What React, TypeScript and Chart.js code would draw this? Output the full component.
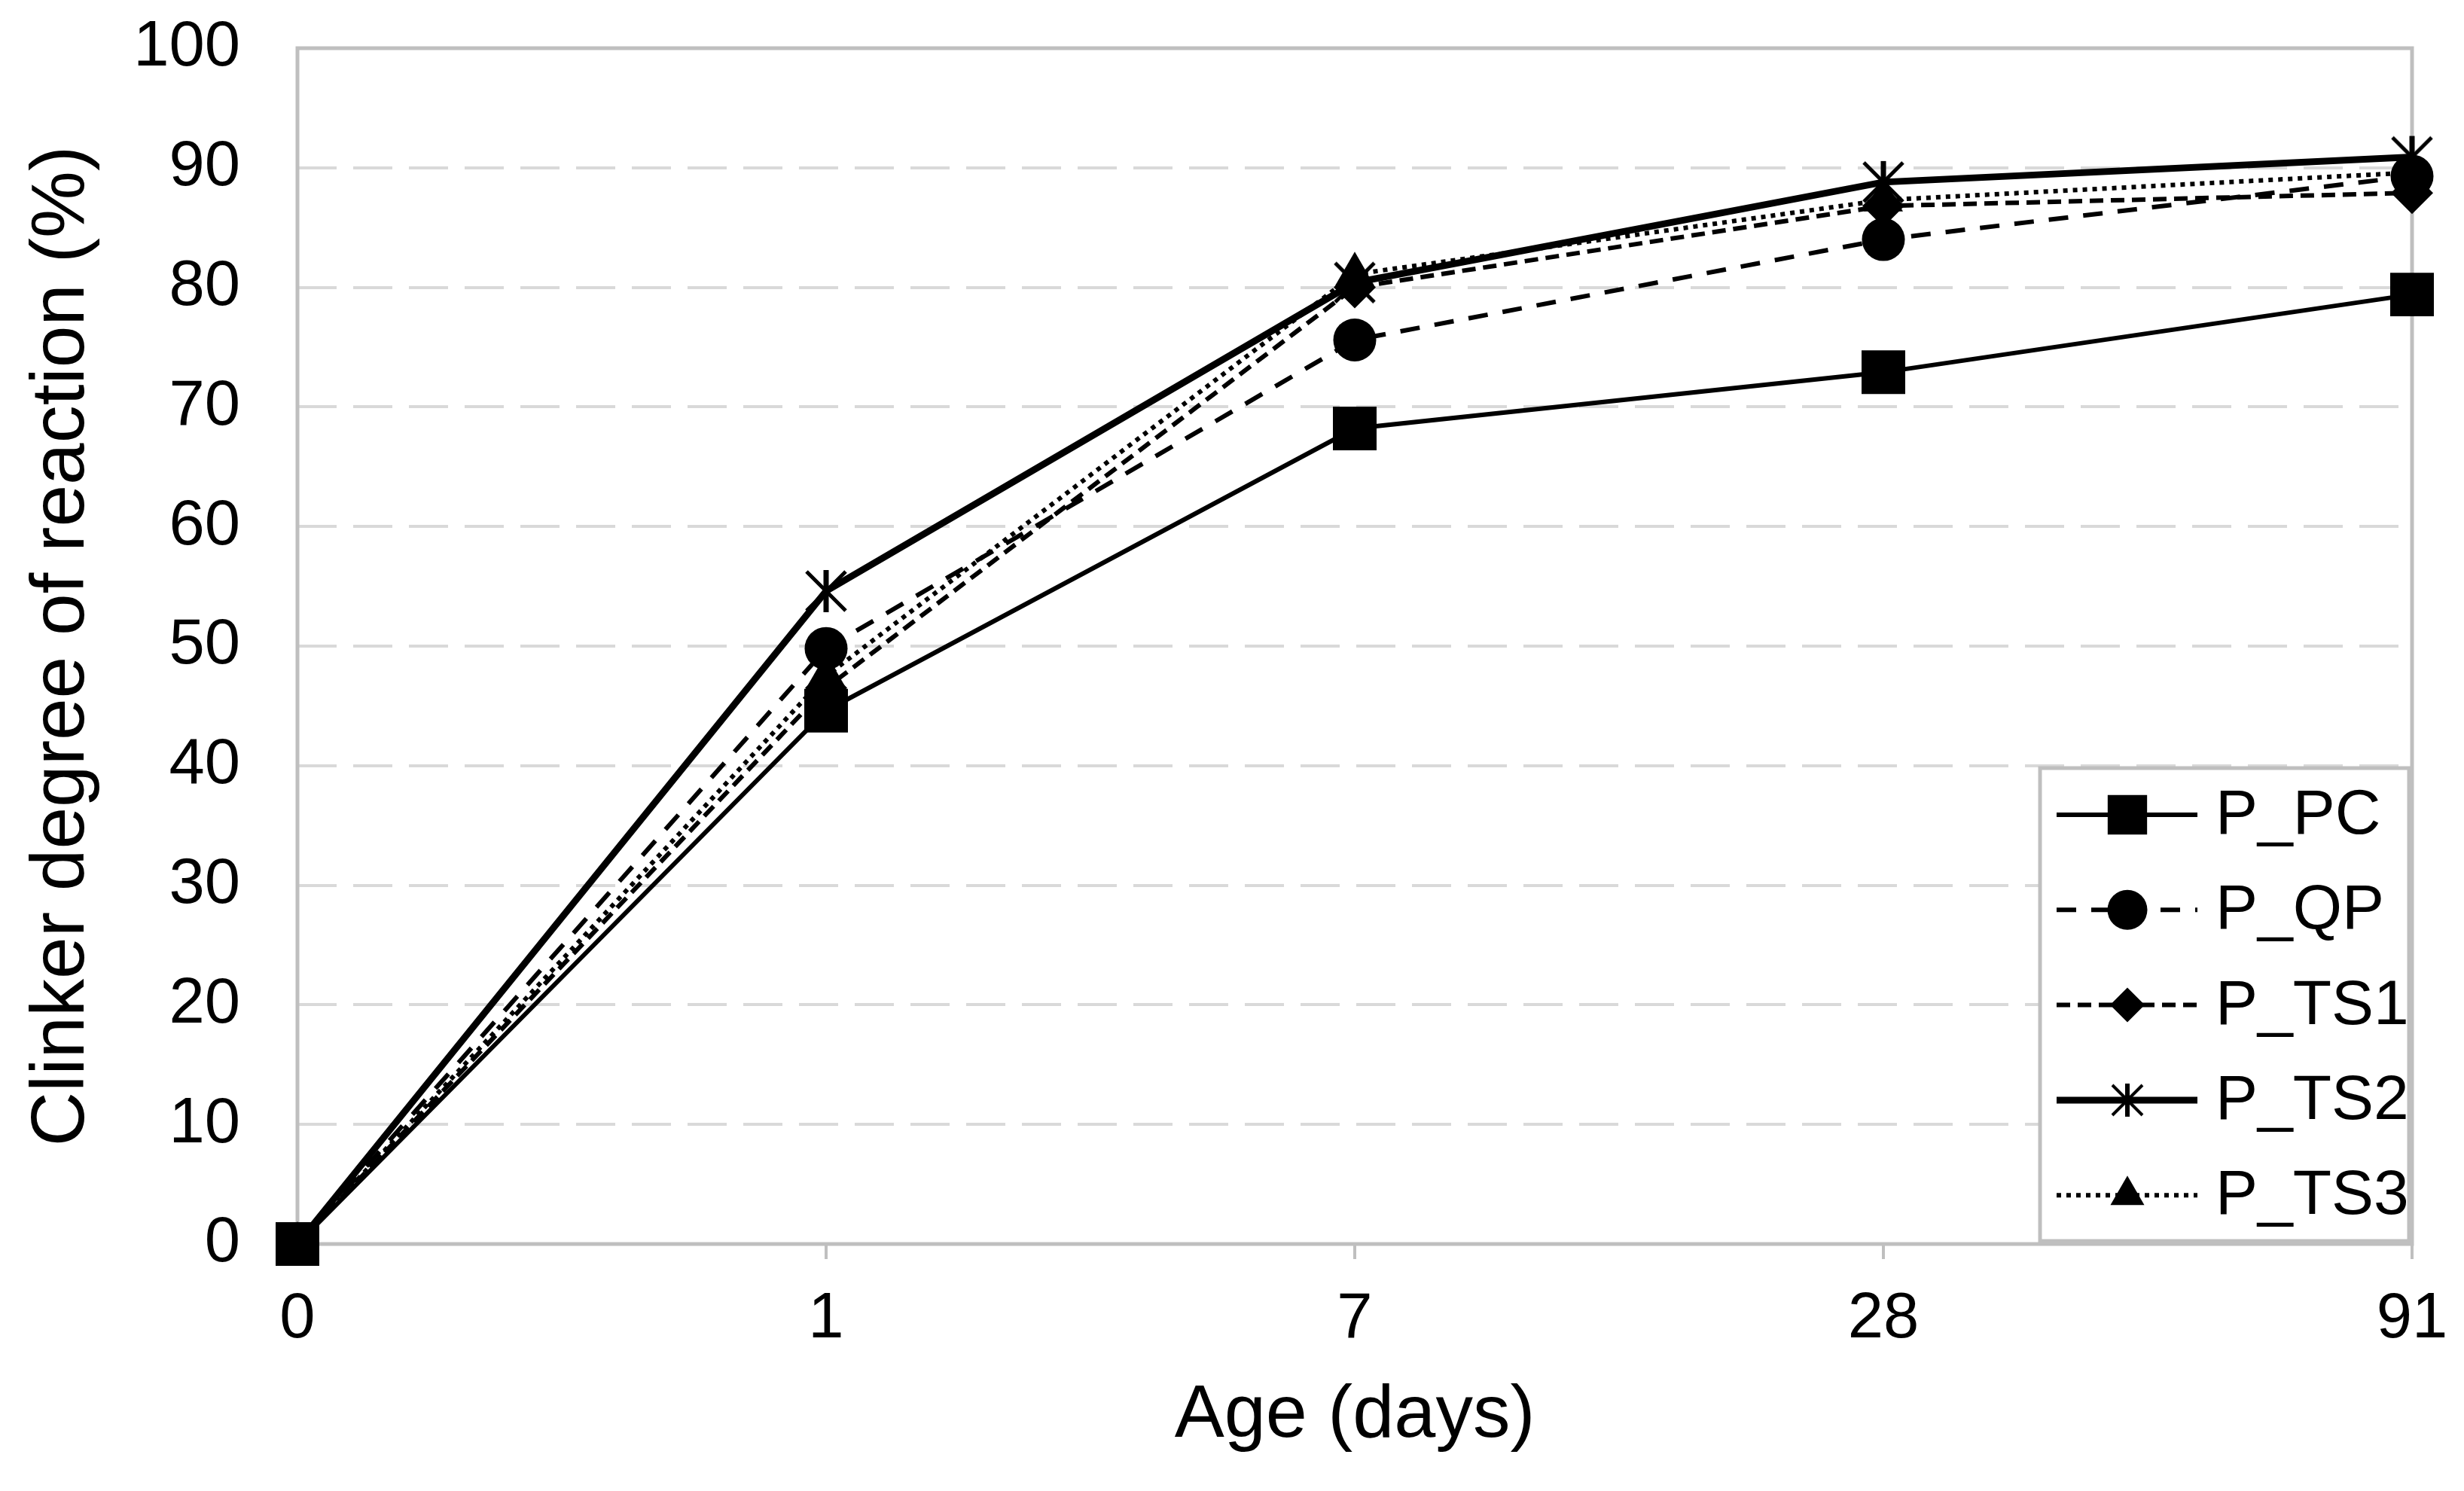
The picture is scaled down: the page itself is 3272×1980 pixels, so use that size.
import { useEffect, useRef } from "react";
import { Chart, registerables } from "chart.js";
import { drawPoint } from "chart.js/helpers";

Chart.register(...registerables);

// Age categories (days)
const ages = ["0", "1", "7", "28", "91"];

// Clinker degree of reaction (%)
const pPC = [0, 44.6, 68.2, 72.9, 79.4];
const pQP = [0, 49.8, 75.6, 84.0, 89.3];
const pTS1 = [0, 46.5, 80.0, 86.8, 87.9];
const pTS2 = [0, 54.6, 80.4, 88.8, 90.9];
const pTS3 = [0, 47.5, 81.1, 87.3, 89.6];

const seriesNames = ["P_PC", "P_QP", "P_TS1", "P_TS2", "P_TS3"];
const seriesData = [pPC, pQP, pTS1, pTS2, pTS3];

const FONT = "'Liberation Sans', Arial, Helvetica, sans-serif";
const AXIS_GREY = "#bfbfbf";

// asterisk marker like the spreadsheet one (vertical bar + X)
function makeAsterisk(size: number, bar: number, diag: number) {
  const c = document.createElement("canvas");
  c.width = size;
  c.height = size;
  const g = c.getContext("2d")!;
  g.strokeStyle = "#000";
  g.lineWidth = bar;
  g.beginPath();
  g.moveTo(size / 2, 1);
  g.lineTo(size / 2, size - 1);
  g.stroke();
  g.lineWidth = diag;
  g.beginPath();
  g.moveTo(3, 3);
  g.lineTo(size - 3, size - 3);
  g.moveTo(size - 3, 3);
  g.lineTo(3, size - 3);
  g.stroke();
  return c;
}

export default function App() {
  const chartRef = useRef<HTMLCanvasElement>(null);
  const chartInstance = useRef<Chart | null>(null);

  useEffect(() => {
    document.body.style.margin = "0";
    if (!chartRef.current) return;
    if (chartInstance.current) chartInstance.current.destroy();

    const star = makeAsterisk(58, 7, 5);
    const starSmall = makeAsterisk(46, 6, 4);

    // styles per series: marker, line width, dash
    const styles: any[] = [
      { point: "rect", radius: 41, legendPoint: "rect", legendRadius: 37, width: 6, dash: [] },
      { point: "circle", radius: 28.5, legendPoint: "circle", legendRadius: 26.5, width: 6, dash: [26, 20] },
      { point: "rectRot", radius: 28, legendPoint: "rectRot", legendRadius: 23, width: 6, dash: [18, 10] },
      { point: star, radius: 29, legendPoint: starSmall, legendRadius: 23, width: 9, dash: [] },
      { point: "triangle", radius: 30, legendPoint: "triangle", legendRadius: 26, width: 6, dash: [6, 7] },
    ];

    const plotBorder = {
      id: "plotBorder",
      beforeDatasetsDraw(chart: any) {
        const { ctx, chartArea: a } = chart;
        ctx.save();
        ctx.strokeStyle = AXIS_GREY;
        ctx.lineWidth = 5;
        ctx.strokeRect(a.left, a.top, a.right - a.left, a.bottom - a.top);
        ctx.restore();
      },
    };

    const boxLegend = {
      id: "boxLegend",
      afterDraw(chart: any) {
        const { ctx, chartArea } = chart;
        const w = 490;
        const h = 628;
        const right = chartArea.right - 4;
        const bottom = chartArea.bottom - 4;
        const left = right - w;
        const top = bottom - h;
        ctx.save();
        ctx.fillStyle = "#fff";
        ctx.fillRect(left, top, w, h);
        ctx.strokeStyle = AXIS_GREY;
        ctx.lineWidth = 5;
        ctx.strokeRect(left, top, w, h);
        chart.data.datasets.forEach((ds: any, i: number) => {
          const st = styles[i];
          const y = top + 62 + i * 126.3;
          ctx.strokeStyle = "#000";
          ctx.lineWidth = st.width;
          ctx.setLineDash(st.dash);
          ctx.beginPath();
          ctx.moveTo(left + 22, y);
          ctx.lineTo(left + 209, y);
          ctx.stroke();
          ctx.setLineDash([]);
          ctx.fillStyle = "#000";
          drawPoint(ctx, { pointStyle: st.legendPoint, rotation: 0, radius: st.legendRadius, borderWidth: 0 } as any, left + 116, y);
          ctx.font = `84px ${FONT}`;
          ctx.textBaseline = "middle";
          ctx.textAlign = "left";
          ctx.fillText(ds.label, left + 233, y + 2);
        });
        ctx.restore();
      },
    };

    const ctx = chartRef.current.getContext("2d");
    if (!ctx) return;

    chartInstance.current = new Chart(ctx, {
      type: "line",
      data: {
        labels: ages,
        datasets: seriesData.map((d, i) => ({
          label: seriesNames[i],
          data: d,
          borderColor: "#000",
          backgroundColor: "#000",
          borderWidth: styles[i].width,
          borderDash: styles[i].dash,
          pointStyle: styles[i].point,
          pointRadius: styles[i].radius,
          pointBackgroundColor: "#000",
          pointBorderColor: "#000",
          pointBorderWidth: 0,
          tension: 0,
          fill: false,
          clip: false,
        })) as any,
      },
      options: {
        responsive: false,
        animation: false,
        devicePixelRatio: 1,
        layout: { padding: { left: 0, right: 69, top: 64, bottom: 0 } },
        plugins: {
          legend: { display: false },
          tooltip: { enabled: false },
        },
        scales: {
          x: {
            type: "category",
            offset: false,
            grid: {
              drawOnChartArea: false,
              drawTicks: true,
              tickLength: 20,
              color: AXIS_GREY,
              lineWidth: 4,
            },
            border: { display: false },
            ticks: {
              color: "#000",
              font: { family: FONT, size: 85 },
              padding: 30,
              maxRotation: 0,
              autoSkip: false,
            },
            title: {
              display: true,
              text: "Age (days)",
              color: "#000",
              font: { family: FONT, size: 99 },
              padding: { top: 0, bottom: 40 },
            },
            afterFit(scale: any) {
              scale.height = 328;
              scale.paddingLeft = 0;
              scale.paddingRight = 0;
            },
          },
          y: {
            min: 0,
            max: 100,
            grid: {
              color: "#d9d9d9",
              lineWidth: 4,
              drawTicks: false,
            },
            border: { display: false, dash: [52, 22] },
            ticks: {
              stepSize: 10,
              color: "#000",
              font: { family: FONT, size: 85 },
              padding: 76,
            },
            title: {
              display: true,
              text: "Clinker degree of reaction (%)",
              color: "#000",
              font: { family: FONT, size: 100 },
              padding: { top: 23, bottom: 0 },
            },
            afterFit(scale: any) {
              scale.width = 395;
              scale.paddingTop = 0;
              scale.paddingBottom = 0;
            },
          },
        },
      } as any,
      plugins: [plotBorder, boxLegend],
    });

    return () => {
      if (chartInstance.current) {
        chartInstance.current.destroy();
        chartInstance.current = null;
      }
    };
  }, []);

  return (
    <div style={{ width: 3272, height: 1980, background: "#fff" }}>
      <canvas ref={chartRef} width={3272} height={1980} style={{ display: "block", width: 3272, height: 1980 }}></canvas>
    </div>
  );
}
